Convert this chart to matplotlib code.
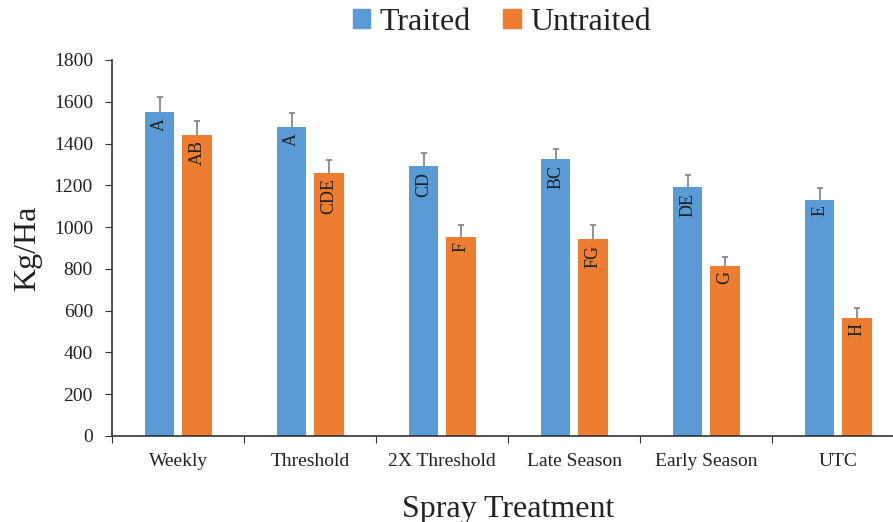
import numpy as np
import matplotlib
matplotlib.use("Agg")
import matplotlib.pyplot as plt
from matplotlib.patches import Patch

# Data
treatments = ["Weekly", "Threshold", "2X Threshold", "Late Season", "Early Season", "UTC"]
traited = [1549, 1477, 1292, 1324, 1190, 1132]
traited_err = [74, 69, 63, 50, 59, 55]
untraited = [1443, 1261, 953, 941, 816, 567]
untraited_err = [65, 60, 57, 69, 41, 46]
traited_letters = ["A", "A", "CD", "BC", "DE", "E"]
untraited_letters = ["AB", "CDE", "F", "FG", "G", "H"]

plt.rcParams["font.family"] = ["Liberation Serif", "DejaVu Serif"]

blue = "#5B9BD5"
orange = "#ED7D31"
text_col = "#222222"
err_col = "#808080"

fig = plt.figure(figsize=(8.93, 5.22), dpi=100)
ax = fig.add_axes([0.1258, 0.1648, 0.8869, 0.7203])

x = np.arange(len(treatments))
w = 0.222
off = 0.142

series = [
    (x - off, traited, traited_err, traited_letters, blue),
    (x + off, untraited, untraited_err, untraited_letters, orange),
]

for xs, vals, errs, letters, col in series:
    vals = np.array(vals)
    errs = np.array(errs)
    ax.bar(xs, vals, w, color=col, zorder=2)
    # upper-only error bars, cap only at the top
    ax.errorbar(xs, vals, yerr=[np.zeros(len(xs)), errs], fmt="none",
                ecolor=err_col, elinewidth=1.2, capsize=0, zorder=3)
    ax.plot(xs, vals + errs, ls="none", marker="_", ms=5, mew=1.2, color=err_col, zorder=3)
    # significance letters inside bars
    for xi, v, lab in zip(xs, vals, letters):
        ax.annotate(lab, (xi, v), xytext=(0, -4), textcoords="offset points",
                    rotation=90, ha="center", va="top", fontsize=13,
                    color=text_col, zorder=4)

ax.set_xlim(-0.5, len(x) - 0.5)
ax.set_ylim(0, 1800)
ax.set_yticks(range(0, 1801, 200))

# group boundaries as major ticks, names as minor labels
ax.set_xticks(np.arange(-0.5, len(x) - 0.4, 1.0))
ax.set_xticklabels([])
ax.set_xticks(x, minor=True)
ax.set_xticklabels(treatments, minor=True)
ax.tick_params(axis="x", which="major", length=5, direction="out", color="#333333")
ax.tick_params(axis="x", which="minor", length=0, pad=12, labelsize=14, labelcolor=text_col)
ax.tick_params(axis="y", length=5, direction="out", pad=9, labelsize=14,
               labelcolor=text_col, color="#333333")

for s in ["top", "right"]:
    ax.spines[s].set_visible(False)
for s in ["left", "bottom"]:
    ax.spines[s].set_color("#333333")
    ax.spines[s].set_linewidth(1.2)

ax.set_ylabel("Kg/Ha", fontsize=23, color=text_col, labelpad=8)
ax.set_xlabel("Spray Treatment", fontsize=23, color=text_col, labelpad=18)

handles = [Patch(color=blue, label="Traited"), Patch(color=orange, label="Untraited")]
fig.legend(handles=handles, loc="center", bbox_to_anchor=(0.562, 0.957), ncol=2,
           frameon=False, fontsize=23, handlelength=0.55, handleheight=0.55,
           handletextpad=0.3, columnspacing=1.0, labelcolor=text_col)

fig.savefig("out.png", dpi=100)
